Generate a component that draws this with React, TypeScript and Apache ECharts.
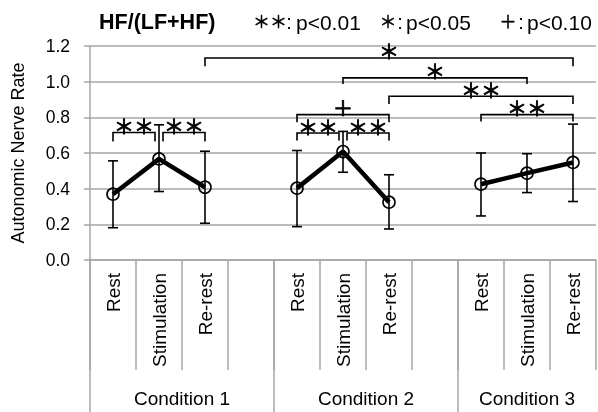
import React, { useEffect, useRef } from 'react';
import * as echarts from 'echarts';

// ---- data ----
const slotLabels = ['Rest', 'Stimulation', 'Re-rest', '', 'Rest', 'Stimulation', 'Re-rest', '', 'Rest', 'Stimulation', 'Re-rest'];
const conditionNames = ['Condition 1', 'Condition 2', 'Condition 3'];
const conditionStart = [0, 4, 8];
const conditionEnd = [3, 7, 10];

const cond1Slots = [0, 1, 2];
const cond1Mean = [0.369, 0.567, 0.408];
const cond1Upper = [0.556, 0.758, 0.61];
const cond1Lower = [0.181, 0.384, 0.206];

const cond2Slots = [4, 5, 6];
const cond2Mean = [0.403, 0.608, 0.324];
const cond2Upper = [0.614, 0.721, 0.478];
const cond2Lower = [0.187, 0.492, 0.174];

const cond3Slots = [8, 9, 10];
const cond3Mean = [0.425, 0.487, 0.547];
const cond3Upper = [0.6, 0.596, 0.762];
const cond3Lower = [0.247, 0.378, 0.328];

const bracketFrom = [0, 1, 4, 5, 4, 2, 5, 6, 8];
const bracketTo = [1, 2, 5, 6, 6, 10, 9, 10, 10];
const bracketTop = [0.715, 0.715, 0.712, 0.712, 0.815, 1.133, 1.021, 0.918, 0.815];
const bracketLeg = [0.665, 0.665, 0.67, 0.67, 0.773, 1.086, 0.987, 0.875, 0.777];
const bracketLabel = ['＊＊', '＊＊', '＊＊', '＊＊', '＋', '＊', '＊', '＊＊', '＊＊'];

const legendMarks = ['＊＊', '＊', '＋'];
const legendTexts = ['p<0.01', 'p<0.05', 'p<0.10'];

const yMin = 0;
const yMax = 1.2;
const yStep = 0.2;

const SANS = '"Liberation Sans", Arial, sans-serif';
const CJK = '"Noto Sans CJK JP", "Noto Sans CJK SC", sans-serif';
const GRID = '#a6a6a6';

const legendMarkX = [270, 388, 508];
const legendColonX = [289, 400, 521];
const legendTextX = [296, 406, 527];

export default function App() {
  const ref = useRef<HTMLDivElement>(null);
  useEffect(() => {
    if (!ref.current) return;
    const chart = echarts.init(ref.current, undefined, { renderer: 'svg' });

    const lineSeries = [
      [cond1Slots, cond1Mean],
      [cond2Slots, cond2Mean],
      [cond3Slots, cond3Mean],
    ].map(([slots, means]) => ({
      type: 'line',
      z: 4,
      data: (slots as number[]).map((s, i) => [s, (means as number[])[i]]),
      symbol: 'circle',
      symbolSize: 12,
      lineStyle: { color: '#000', width: 4.5 },
      itemStyle: { color: 'rgba(255,255,255,0)', borderColor: '#000', borderWidth: 1.6 },
      emphasis: { disabled: true },
    }));

    const errData: number[][] = [];
    [
      [cond1Slots, cond1Lower, cond1Upper],
      [cond2Slots, cond2Lower, cond2Upper],
      [cond3Slots, cond3Lower, cond3Upper],
    ].forEach(([slots, lo, hi]) => {
      (slots as number[]).forEach((s, i) => errData.push([s, (lo as number[])[i], (hi as number[])[i]]));
    });

    const legendGraphics: any[] = [];
    legendMarks.forEach((m, i) => {
      legendGraphics.push({
        type: 'text',
        x: legendMarkX[i],
        y: 20,
        style: {
          text: m,
          align: 'center',
          verticalAlign: 'middle',
          font: `17px ${CJK}`,
          fill: '#000',
          stroke: '#000',
          lineWidth: 0.5,
        },
      });
      legendGraphics.push({
        type: 'text',
        x: legendColonX[i],
        y: 22,
        style: { text: ':', align: 'center', verticalAlign: 'middle', font: `20px ${SANS}`, fill: '#000' },
      });
      legendGraphics.push({
        type: 'text',
        x: legendTextX[i],
        y: 22,
        style: { text: legendTexts[i], align: 'left', verticalAlign: 'middle', font: `21px ${SANS}`, fill: '#000' },
      });
    });

    const option: any = {
      animation: false,
      grid: { left: 90, top: 46, width: 506, height: 214, containLabel: false },
      xAxis: {
        type: 'category',
        data: slotLabels,
        boundaryGap: true,
        axisLine: { show: true, lineStyle: { color: GRID, width: 1.5 } },
        axisTick: { show: true, interval: 0, length: 110, lineStyle: { color: GRID, width: 1.5 } },
        axisLabel: {
          interval: 0,
          rotate: 90,
          margin: 13,
          color: '#000',
          fontSize: 19,
          fontFamily: SANS,
        },
        splitLine: { show: false },
      },
      yAxis: {
        type: 'value',
        min: yMin,
        max: yMax,
        interval: yStep,
        name: 'Autonomic Nerve Rate',
        nameLocation: 'middle',
        nameGap: 63,
        nameTextStyle: { color: '#000', fontSize: 18, fontFamily: SANS },
        axisLine: { show: true, lineStyle: { color: GRID, width: 1.5 } },
        axisTick: { show: true, inside: false, length: 6, lineStyle: { color: GRID, width: 1.5 } },
        axisLabel: {
          margin: 20,
          color: '#000',
          fontSize: 17.5,
          fontFamily: SANS,
          formatter: (v: number) => v.toFixed(1),
        },
        splitLine: { show: true, lineStyle: { color: GRID, width: 1.5 } },
      },
      graphic: [
        {
          type: 'text',
          x: 99,
          y: 22,
          style: { text: 'HF/(LF+HF)', align: 'left', verticalAlign: 'middle', font: `bold 21.5px ${SANS}`, fill: '#000' },
        },
        ...legendGraphics,
      ],
      series: [
        // long separators + condition labels
        {
          type: 'custom',
          clip: false,
          silent: true,
          z: 1,
          data: conditionStart.map((s, i) => [s, 0, conditionEnd[i]]),
          encode: { x: 0, y: 1 },
          renderItem: (params: any, api: any) => {
            const i = params.dataIndex;
            const s = api.value(0);
            const e = api.value(2);
            const bw = api.size([1, 0])[0];
            const p0 = api.coord([s, 0]);
            const p1 = api.coord([e, 0]);
            const xL = p0[0] - bw / 2;
            const xR = p1[0] + bw / 2;
            const y0 = p0[1];
            return {
              type: 'group',
              children: [
                {
                  type: 'line',
                  shape: { x1: xL, y1: y0, x2: xL, y2: y0 + 160 },
                  style: { stroke: GRID, lineWidth: 1.5 },
                },
                {
                  type: 'text',
                  style: {
                    text: conditionNames[i],
                    x: (xL + xR) / 2,
                    y: y0 + 138,
                    align: 'center',
                    verticalAlign: 'middle',
                    font: `19px ${SANS}`,
                    fill: '#000',
                  },
                },
              ],
            };
          },
        },
        // error bars
        {
          type: 'custom',
          z: 3,
          silent: true,
          data: errData,
          encode: { x: 0, y: [1, 2] },
          renderItem: (params: any, api: any) => {
            const x = api.value(0);
            const lo = api.coord([x, api.value(1)]);
            const hi = api.coord([x, api.value(2)]);
            const cap = 5;
            const st = { stroke: '#000', lineWidth: 1.6 };
            return {
              type: 'group',
              children: [
                { type: 'line', shape: { x1: lo[0], y1: lo[1], x2: hi[0], y2: hi[1] }, style: st },
                { type: 'line', shape: { x1: lo[0] - cap, y1: lo[1], x2: lo[0] + cap, y2: lo[1] }, style: st },
                { type: 'line', shape: { x1: hi[0] - cap, y1: hi[1], x2: hi[0] + cap, y2: hi[1] }, style: st },
              ],
            };
          },
        },
        // significance brackets
        {
          type: 'custom',
          z: 5,
          clip: false,
          silent: true,
          data: bracketFrom.map((f, i) => [f, bracketTo[i], bracketTop[i], bracketLeg[i]]),
          encode: { x: 0, y: 2 },
          renderItem: (params: any, api: any) => {
            const i = params.dataIndex;
            const from = api.value(0);
            const to = api.value(1);
            const top = api.value(2);
            const leg = api.value(3);
            let x1 = api.coord([from, top])[0];
            let x2 = api.coord([to, top])[0];
            const yTop = api.coord([from, top])[1];
            const yLeg = api.coord([from, leg])[1];
            const shareL = bracketTo.some((t, j) => j !== i && t === from && Math.abs(bracketTop[j] - top) < 0.01);
            const shareR = bracketFrom.some((f, j) => j !== i && f === to && Math.abs(bracketTop[j] - top) < 0.01);
            if (shareL) x1 += 4;
            if (shareR) x2 -= 4;
            return {
              type: 'group',
              children: [
                {
                  type: 'polyline',
                  shape: { points: [[x1, yLeg], [x1, yTop], [x2, yTop], [x2, yLeg]] },
                  style: { stroke: '#000', lineWidth: 1.6, fill: 'none' },
                },
                {
                  type: 'text',
                  style: {
                    text: bracketLabel[i],
                    x: (x1 + x2) / 2,
                    y: yTop + 3,
                    align: 'center',
                    verticalAlign: 'bottom',
                    font: `20px ${CJK}`,
                    fill: '#000',
                    stroke: '#000',
                    lineWidth: 0.9,
                  },
                },
              ],
            };
          },
        },
        ...lineSeries,
      ],
    };
    chart.setOption(option);
    return () => chart.dispose();
  }, []);
  return <div ref={ref} style={{ position: 'fixed', left: 0, top: 0, width: 598, height: 412 }} />;
}
